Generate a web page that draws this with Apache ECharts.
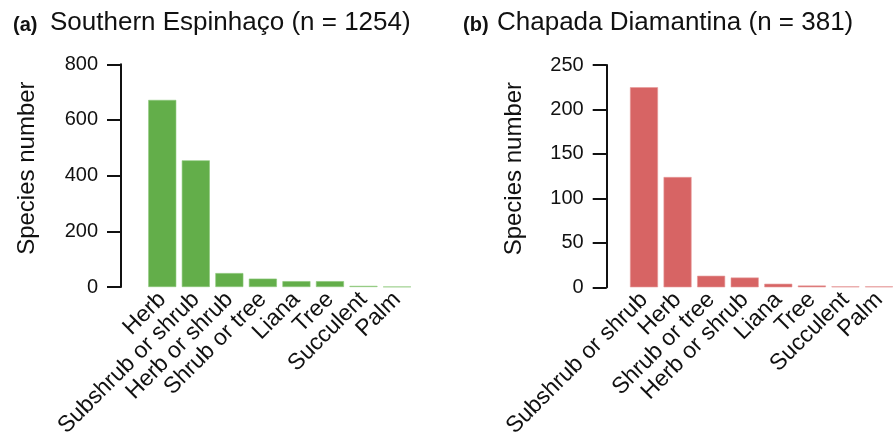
<!DOCTYPE html>
<html>
<head>
<meta charset="utf-8">
<script src="https://cdn.jsdelivr.net/npm/echarts@6/dist/echarts.min.js"></script>
<style>
  html, body { margin: 0; padding: 0; background: #fff; }
  #chart { width: 893px; height: 435px; }
</style>
</head>
<body>
<div id="chart"></div>
<script>
// Panel (a) Southern Espinhaço
const catsA = ['Herb', 'Subshrub or shrub', 'Herb or shrub', 'Shrub or tree', 'Liana', 'Tree', 'Succulent', 'Palm'];
const valsA = [672, 455, 50, 30, 21, 21, 4, 1];
const ticksA = { min: 0, max: 800, interval: 200 };

// Panel (b) Chapada Diamantina
const catsB = ['Subshrub or shrub', 'Herb', 'Shrub or tree', 'Herb or shrub', 'Liana', 'Tree', 'Succulent', 'Palm'];
const valsB = [225, 124, 13, 11, 4, 2, 1, 1];
const ticksB = { min: 0, max: 250, interval: 50 };

const titleA = { tag: '(a)', text: 'Southern Espinhaço (n = 1254)' };
const titleB = { tag: '(b)', text: 'Chapada Diamantina (n = 381)' };

const FONT = '"Liberation Sans", Arial, sans-serif';
const GREEN = '#63ae4a';
const RED = '#d76464';

function yAxisCfg(t, offset, gridIndex, nameGap) {
  return {
    type: 'value', gridIndex: gridIndex, min: t.min, max: t.max, interval: t.interval,
    offset: offset,
    name: 'Species number', nameLocation: 'middle', nameGap: nameGap,
    nameTextStyle: { fontFamily: FONT, fontSize: 24, color: '#111', padding: [0, 0, 0, 15] },
    axisLine: { show: true, lineStyle: { color: '#111', width: 2 } },
    axisTick: { show: true, length: 14, lineStyle: { color: '#111', width: 2 } },
    axisLabel: { margin: 23, fontFamily: FONT, fontSize: 20, color: '#111' },
    splitLine: { show: false }
  };
}
function xAxisCfg(cats, gridIndex) {
  return {
    type: 'category', gridIndex: gridIndex, data: cats,
    axisLine: { show: false }, axisTick: { show: false },
    axisLabel: { interval: 0, rotate: 45, margin: 9, fontFamily: FONT, fontSize: 23, color: '#111' }
  };
}

const chart = echarts.init(document.getElementById('chart'), null, { renderer: 'canvas' });
chart.setOption({
  backgroundColor: '#fff',
  animation: false,
  title: [
    { text: titleA.tag, left: 13, top: 15, padding: 0, textStyle: { fontFamily: FONT, fontSize: 20, fontWeight: 'bold', color: '#111' } },
    { text: titleA.text, left: 50, top: 10, padding: 0, textStyle: { fontFamily: FONT, fontSize: 26, fontWeight: 'normal', color: '#111' } },
    { text: titleB.tag, left: 463, top: 15, padding: 0, textStyle: { fontFamily: FONT, fontSize: 20, fontWeight: 'bold', color: '#111' } },
    { text: titleB.text, left: 497, top: 10, padding: 0, textStyle: { fontFamily: FONT, fontSize: 26, fontWeight: 'normal', color: '#111' } }
  ],
  grid: [
    { left: 145.5, top: 64.3, width: 268.3, height: 222.7, containLabel: false, outerBoundsMode: 'none' },
    { left: 627.2, top: 65, width: 268.6, height: 222.3, containLabel: false, outerBoundsMode: 'none' }
  ],
  xAxis: [xAxisCfg(catsA, 0), xAxisCfg(catsB, 1)],
  yAxis: [yAxisCfg(ticksA, 24.5, 0, 82), yAxisCfg(ticksB, 20.5, 1, 80)],
  series: [
    { type: 'bar', xAxisIndex: 0, yAxisIndex: 0, data: valsA, barWidth: 28,
      itemStyle: { color: GREEN, borderColor: '#8cc878', borderWidth: 0.6 } },
    { type: 'bar', xAxisIndex: 1, yAxisIndex: 1, data: valsB, barWidth: 28,
      itemStyle: { color: RED, borderColor: '#e89a9a', borderWidth: 0.6 } }
  ]
});
</script>
</body>
</html>
